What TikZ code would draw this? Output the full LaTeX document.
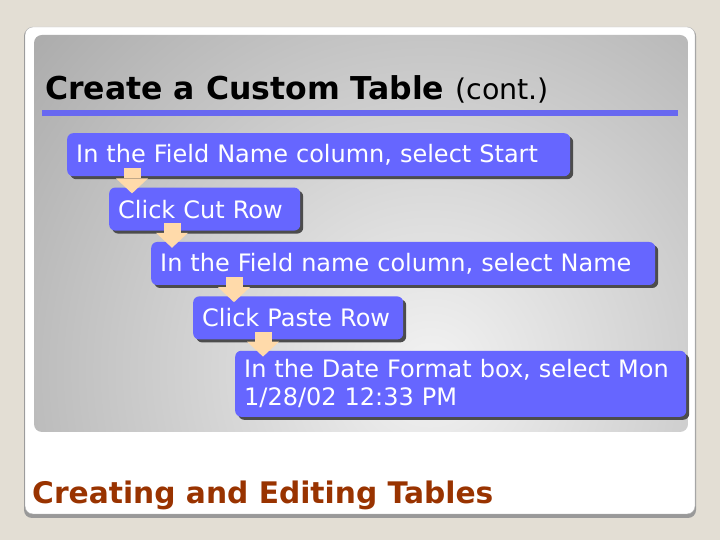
\documentclass[tikz,border=0pt]{standalone}
\usepackage{fontspec}
\setmainfont{DejaVu Sans}
\usetikzlibrary{positioning,shadows,arrows.meta}
\definecolor{stepblue}{RGB}{102,102,255}
\definecolor{ruleblue}{RGB}{104,104,240}
\definecolor{peach}{RGB}{255,218,170}
\definecolor{footred}{RGB}{153,51,0}
\definecolor{slidebg}{RGB}{227,222,212}

\begin{document}
\begin{tikzpicture}[x=1pt,y=1pt,
		stepbox/.style={rectangle, rounded corners=6pt, fill=stepblue, text=white, minimum height=43pt, inner xsep=9pt, inner ysep=4pt, align=left, font=\fontsize{24}{28}\selectfont, drop shadow={shadow xshift=3pt, shadow yshift=-3pt, fill=black!70, opacity=1}},
		flow/.style={draw=peach, line width=17pt, -{Triangle[width=32pt,length=15pt,line width=0pt]}, shorten >=-6pt},
		]
		%Slide
		\useasboundingbox[fill=slidebg] (0,0) rectangle (720,540);
		\fill[rounded corners=8pt, black!40] (24,22) rectangle (696,512);
		\filldraw[rounded corners=8pt, fill=white, draw=black!30] (25,26) rectangle (695,513);
		\begin{scope}
			\clip[rounded corners=8pt] (34,108) rectangle (688,505);
			\shade[inner color=black!5, outer color=black!38] (430,170) circle (620);
		\end{scope}
		
		%Title
		\node[anchor=base west, inner sep=0pt] (title) at (45,440) {\fontsize{31.5}{36}\selectfont\bfseries Create a Custom Table \fontsize{28.5}{34}\selectfont\mdseries(cont.)};
		\coordinate (rule-l) at (42,427);
		\coordinate (rule-r) at (678,427);
		\draw[ruleblue, line width=6pt] (rule-l) -- (rule-r);
		
		%Nodes
		\node[stepbox, text width=485pt, anchor=north west] (start) at (67,407) {In the Field Name column, select Start};
		\node[stepbox, text width=173pt, below=11pt of start.south west, anchor=north west, xshift=42pt] (cut) {Click Cut Row};
		\node[stepbox, text width=486pt, below=11pt of cut.south west, anchor=north west, xshift=42pt] (name) {In the Field name column, select Name};
		\node[stepbox, text width=192pt, below=11pt of name.south west, anchor=north west, xshift=42pt] (paste) {Click Paste Row};
		\node[stepbox, text width=433pt, minimum height=66pt, below=11pt of paste.south west, anchor=north west, xshift=42pt] (format) {In the Date Format box, select Mon\\1/28/02 12:33 PM};
		
		%Footer
		\node[anchor=base west, inner sep=0pt, text=footred] (footer) at (32,36) {\fontsize{29.7}{35}\selectfont\bfseries Creating and Editing Tables};
		
		%Arrows
		\coordinate (a1) at ([xshift=65pt,yshift=8pt]start.south west);
		\coordinate (a2) at ([xshift=63pt,yshift=8pt]cut.south west);
		\coordinate (a3) at ([xshift=83pt,yshift=8pt]name.south west);
		\coordinate (a4) at ([xshift=70pt,yshift=8pt]paste.south west);
		\draw[flow] (a1) -- (a1 |- cut.north);
		\draw[flow] (a2) -- (a2 |- name.north);
		\draw[flow] (a3) -- (a3 |- paste.north);
		\draw[flow] (a4) -- (a4 |- format.north);
		
	\end{tikzpicture}
\end{document}
